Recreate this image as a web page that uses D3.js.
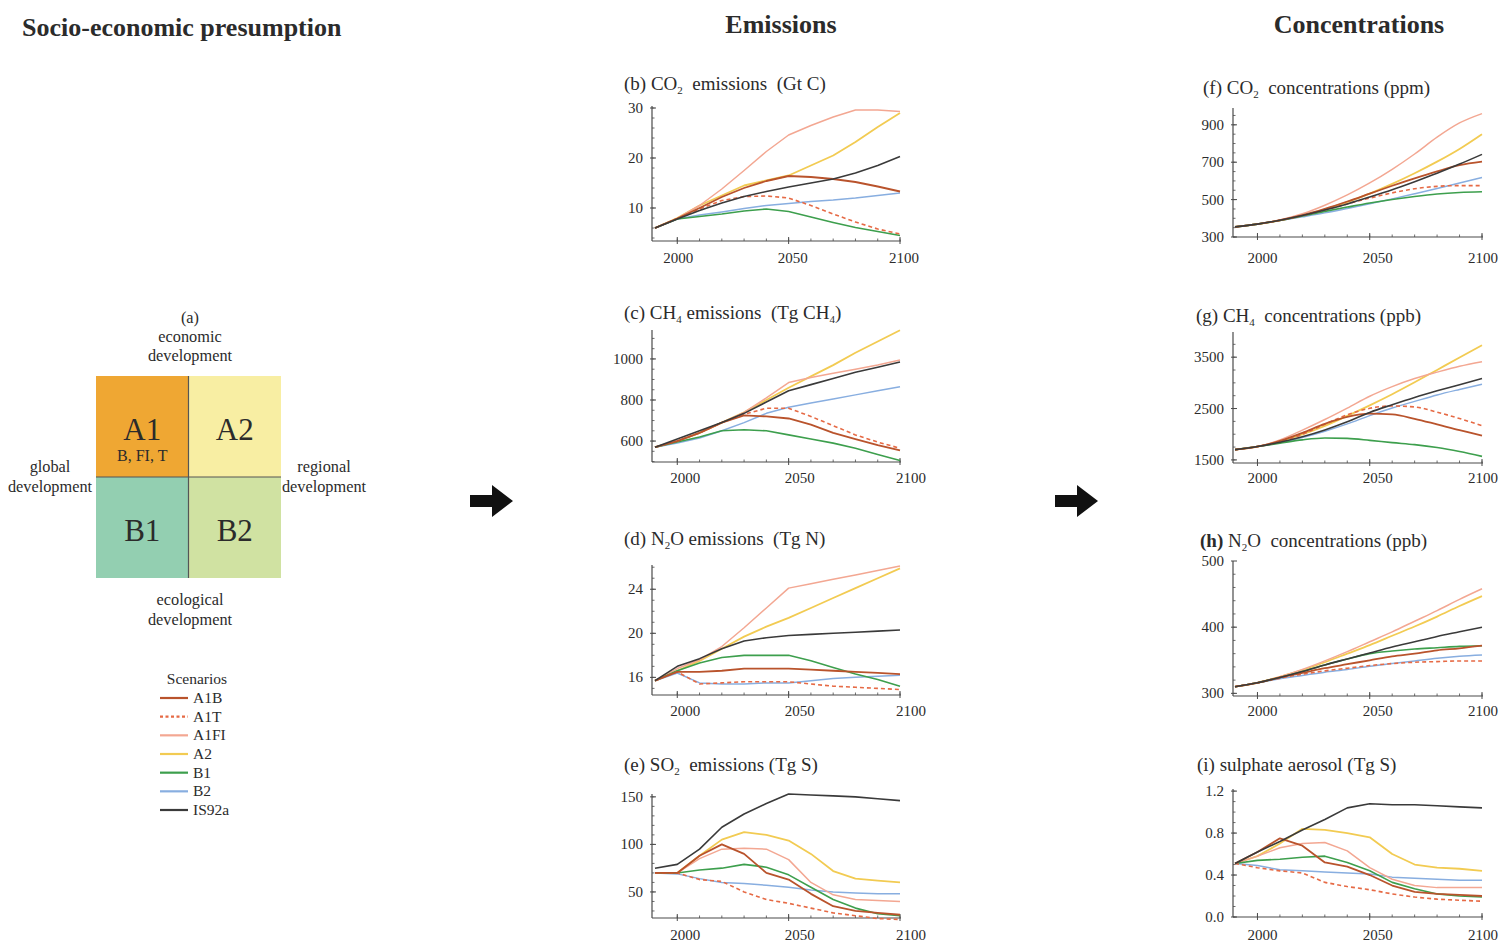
<!DOCTYPE html>
<html><head><meta charset="utf-8">
<script src="https://cdn.jsdelivr.net/npm/d3@7/dist/d3.min.js"></script>
<style>
html,body{margin:0;padding:0;background:#fff;}
svg text{font-family:"Liberation Serif","Times New Roman",serif;fill:#2b2b2b;white-space:pre;}
</style></head>
<body><svg id="chart" width="1501" height="942"></svg>
<script>
// ---------------- DATA ----------------
const years = [1990,2000,2010,2020,2030,2040,2050,2060,2070,2080,2090,2100];
const scenarios = ["A1B","A1T","A1FI","A2","B1","B2","IS92a"];
const xTickLabels = [2000,2050,2100];

const co2Emissions = {
  A1B:  [6.0,7.9,10.0,12.2,14.0,15.4,16.4,16.2,15.8,15.2,14.3,13.3],
  A1T:  [6.0,7.9,9.8,11.5,12.3,12.4,12.0,10.5,8.8,7.2,5.8,4.8],
  A1FI: [6.0,7.9,10.5,13.8,17.5,21.3,24.6,26.5,28.2,29.6,29.6,29.3],
  A2:   [6.0,8.0,10.5,12.5,14.5,15.5,16.5,18.5,20.5,23.2,26.2,29.0],
  B1:   [6.0,7.8,8.3,8.8,9.4,9.8,9.3,8.2,7.1,6.1,5.3,4.5],
  B2:   [6.0,7.8,8.6,9.2,9.9,10.5,10.9,11.3,11.6,12.0,12.5,13.0],
  IS92a:[6.0,7.8,9.5,11.0,12.3,13.3,14.2,15.0,15.8,17.0,18.5,20.3]
};
const ch4Emissions = {
  A1B:  [570,600,640,690,725,720,710,680,640,610,580,555],
  A1T:  [570,600,640,690,730,760,760,720,675,630,595,565],
  A1FI: [570,600,640,690,740,810,885,910,930,950,970,995],
  A2:   [570,600,640,690,740,800,860,915,970,1030,1085,1140],
  B1:   [570,595,620,650,655,650,630,610,590,565,535,505],
  B2:   [570,590,615,650,690,735,765,785,805,825,845,865],
  IS92a:[570,610,650,690,735,790,845,875,905,935,960,985]
};
const n2oEmissions = {
  A1B:  [15.7,16.5,16.5,16.6,16.8,16.8,16.8,16.7,16.6,16.5,16.4,16.3],
  A1T:  [15.7,16.5,15.4,15.5,15.6,15.6,15.6,15.4,15.2,15.1,15.0,14.9],
  A1FI: [15.7,16.8,17.6,18.8,20.5,22.3,24.1,24.5,24.9,25.3,25.7,26.1],
  A2:   [15.7,16.6,17.5,18.6,19.7,20.6,21.4,22.3,23.2,24.1,25.0,25.9],
  B1:   [15.7,16.6,17.3,17.8,18.0,18.0,18.0,17.5,16.9,16.3,15.8,15.2],
  B2:   [15.7,16.4,15.5,15.4,15.4,15.5,15.5,15.7,15.9,16.0,16.1,16.2],
  IS92a:[15.7,17.0,17.7,18.6,19.3,19.6,19.8,19.9,20.0,20.1,20.2,20.3]
};
const so2Emissions = {
  A1B:  [70,70,88,100,90,70,63,48,35,30,28,26],
  A1T:  [70,70,63,61,50,42,38,33,28,25,22,21],
  A1FI: [70,70,85,95,96,95,84,60,47,42,41,40],
  A2:   [70,70,88,105,113,110,104,90,72,64,62,60],
  B1:   [70,70,73,75,79,76,68,55,42,33,27,25],
  B2:   [70,69,64,60,59,57,55,52,50,49,48,48],
  IS92a:[75,79,95,118,132,143,153,152,151,150,148,146]
};
const co2Conc = {
  A1B:  [354,369,390,417,451,490,532,574,614,651,684,703],
  A1T:  [354,369,389,415,445,477,508,536,558,571,575,575],
  A1FI: [354,369,391,424,470,525,589,662,744,834,910,960],
  A2:   [354,369,389,415,448,487,532,584,641,703,771,850],
  B1:   [354,369,388,412,437,460,482,501,517,530,538,542],
  B2:   [354,369,388,408,429,453,478,504,531,559,589,618],
  IS92a:[354,369,390,415,444,477,514,553,596,641,690,742]
};
const ch4Conc = {
  A1B:  [1700,1760,1871,2026,2202,2337,2400,2386,2301,2191,2078,1974],
  A1T:  [1700,1760,1856,1998,2194,2377,2504,2550,2531,2429,2305,2168],
  A1FI: [1700,1760,1888,2079,2286,2508,2740,2927,3084,3209,3324,3413],
  A2:   [1700,1760,1861,1997,2163,2357,2562,2779,3011,3252,3493,3731],
  B1:   [1700,1760,1827,1891,1927,1919,1881,1836,1797,1741,1663,1569],
  B2:   [1700,1760,1839,1936,2058,2201,2363,2510,2639,2765,2872,2973],
  IS92a:[1700,1760,1844,1951,2084,2242,2425,2575,2717,2845,2965,3083]
};
const n2oConc = {
  A1B:  [310,316,324,331,338,344,350,356,360,365,368,372],
  A1T:  [310,316,323,329,334,338,342,345,347,348,349,349],
  A1FI: [310,316,325,336,349,363,378,393,409,425,442,458],
  A2:   [310,316,325,335,347,360,373,387,401,416,432,447],
  B1:   [310,316,324,333,343,352,360,364,367,369,371,372],
  B2:   [310,316,322,327,332,336,341,345,349,353,356,358],
  IS92a:[310,316,324,333,343,352,361,370,378,386,393,400]
};
const sulphate = {
  A1B:  [0.51,0.62,0.75,0.68,0.52,0.48,0.40,0.30,0.24,0.22,0.21,0.20],
  A1T:  [0.51,0.47,0.44,0.42,0.33,0.29,0.26,0.22,0.19,0.17,0.16,0.15],
  A1FI: [0.51,0.58,0.66,0.70,0.71,0.63,0.47,0.36,0.30,0.28,0.28,0.28],
  A2:   [0.51,0.58,0.70,0.84,0.83,0.80,0.76,0.60,0.50,0.47,0.46,0.44],
  B1:   [0.51,0.54,0.55,0.57,0.58,0.52,0.44,0.33,0.27,0.22,0.20,0.19],
  B2:   [0.51,0.49,0.45,0.44,0.43,0.42,0.41,0.38,0.37,0.36,0.35,0.35],
  IS92a:[0.51,0.62,0.72,0.83,0.93,1.04,1.08,1.07,1.07,1.06,1.05,1.04]
};

const yTicksB = [10,20,30];
const yTicksC = [600,800,1000];
const yTicksD = [16,20,24];
const yTicksE = [50,100,150];
const yTicksF = [300,500,700,900];
const yTicksG = [1500,2500,3500];
const yTicksH = [300,400,500];
const yTicksI = [0.0,0.4,0.8,1.2];

// ---------------- STYLES ----------------
const style = {
  A1B:  {color:"#b9532c", dash:null, w:1.8},
  A1T:  {color:"#e66a45", dash:"4,3", w:1.6},
  A1FI: {color:"#f3a792", dash:null, w:1.5},
  A2:   {color:"#f2cb52", dash:null, w:1.8},
  B1:   {color:"#3d9f4d", dash:null, w:1.6},
  B2:   {color:"#88aee0", dash:null, w:1.5},
  IS92a:{color:"#3a3a3a", dash:null, w:1.6}
};
const drawOrder = ["B2","A2","A1FI","B1","A1T","A1B","IS92a"];

const svg = d3.select("#chart");

// ---------------- HEADINGS ----------------
svg.append("text").attr("x",22).attr("y",36).attr("font-size",26).attr("font-weight","bold").text("Socio-economic presumption");
svg.append("text").attr("x",781).attr("y",33).attr("text-anchor","middle").attr("font-size",26).attr("font-weight","bold").text("Emissions");
svg.append("text").attr("x",1359).attr("y",33).attr("text-anchor","middle").attr("font-size",26).attr("font-weight","bold").text("Concentrations");

// ---------------- QUADRANT (a) ----------------
const quads = [
  {k:"A1", col:0,row:0, fill:"#efa733"},
  {k:"A2", col:1,row:0, fill:"#f8eea3"},
  {k:"B1", col:0,row:1, fill:"#93cfb1"},
  {k:"B2", col:1,row:1, fill:"#d0e2a2"}
];
const qx = d3.scaleBand().domain([0,1]).range([96,281]);
const qy = d3.scaleBand().domain([0,1]).range([376,578]);
const gq = svg.append("g");
gq.selectAll("rect").data(quads).join("rect")
  .attr("x",d=>qx(d.col)).attr("y",d=>qy(d.row))
  .attr("width",qx.bandwidth()).attr("height",qy.bandwidth()).attr("fill",d=>d.fill);
gq.append("line").attr("x1",qx(1)).attr("x2",qx(1)).attr("y1",376).attr("y2",578).attr("stroke","#555").attr("stroke-width",1.2);
gq.append("line").attr("x1",96).attr("x2",281).attr("y1",qy(1)).attr("y2",qy(1)).attr("stroke","#555").attr("stroke-width",1.2);
gq.selectAll("text.q").data(quads).join("text").attr("class","q")
  .attr("x",d=>qx(d.col)+qx.bandwidth()/2).attr("y",d=>qy(d.row)+qy.bandwidth()/2+13)
  .attr("text-anchor","middle").attr("font-size",31).text(d=>d.k);
gq.append("text").attr("x",qx(0)+qx.bandwidth()/2).attr("y",461).attr("text-anchor","middle").attr("font-size",16).text("B, FI, T");
const qLabels = [
  ["(a)",190,323],["economic",190,342],["development",190,361],
  ["global",50,472],["development",50,492],
  ["regional",324,472],["development",324,492],
  ["ecological",190,605],["development",190,625]
];
gq.selectAll("text.l").data(qLabels).join("text").attr("class","l")
  .attr("x",d=>d[1]).attr("y",d=>d[2]).attr("text-anchor","middle").attr("font-size",16.3).text(d=>d[0]);

// ---------------- LEGEND ----------------
const gl = svg.append("g");
gl.append("text").attr("x",197).attr("y",684).attr("text-anchor","middle").attr("font-size",15.5).text("Scenarios");
const ly = d3.scalePoint().domain(scenarios).range([698,810]);
scenarios.forEach(s=>{
  gl.append("line").attr("x1",160).attr("x2",188).attr("y1",ly(s)).attr("y2",ly(s))
    .attr("stroke",style[s].color).attr("stroke-width",2.2)
    .attr("stroke-dasharray", s==="A1T" ? "3,2.5" : null);
  gl.append("text").attr("x",193).attr("y",ly(s)+5).attr("font-size",15.5).text(s);
});

// ---------------- ARROWS ----------------
function arrow(x,y){
  const p = d3.path();
  p.moveTo(x,y-6); p.lineTo(x+22,y-6); p.lineTo(x+22,y-16); p.lineTo(x+43,y);
  p.lineTo(x+22,y+16); p.lineTo(x+22,y+6); p.lineTo(x,y+6); p.closePath();
  svg.append("path").attr("d",p.toString()).attr("fill","#111");
}
arrow(470,501);
arrow(1055,501);

// ---------------- PANELS ----------------
const panels = [
  {data:co2Emissions, yTicks:yTicksB, dom:[3.4,30.4], rng:[241,106], x:[655,900], ax:652, minor:2, fmt:d3.format("d"),
   tx:624, ty:90, title:[["(b) CO"],["2","s"],["  emissions  (Gt C)"]], lblDy:22, lblDx:1},
  {data:ch4Emissions, yTicks:yTicksC, dom:[498,1141], rng:[462,330], x:[655,900], ax:652, minor:50, fmt:d3.format("d"),
   tx:624, ty:319, title:[["(c) CH"],["4","s"],[" emissions  (Tg CH"],["4","s"],[")"]], lblDy:21, lblDx:8},
  {data:n2oEmissions, yTicks:yTicksD, dom:[14.4,26.2], rng:[695,565], x:[655,900], ax:652, minor:1, fmt:d3.format("d"),
   tx:624, ty:545, title:[["(d) N"],["2","s"],["O emissions  (Tg N)"]], lblDy:21, lblDx:8},
  {data:so2Emissions, yTicks:yTicksE, dom:[22.6,153], rng:[918,794], x:[655,900], ax:652, minor:10, fmt:d3.format("d"),
   tx:624, ty:771, title:[["(e) SO"],["2","s"],["  emissions (Tg S)"]], lblDy:22, lblDx:8},
  {data:co2Conc, yTicks:yTicksF, dom:[300,990], rng:[237,108], x:[1235,1482], ax:1233, minor:50, fmt:d3.format("d"), smooth:true,
   tx:1203, ty:94, title:[["(f) CO"],["2","s"],["  concentrations (ppm)"]], lblDy:26, lblDx:5},
  {data:ch4Conc, yTicks:yTicksG, dom:[1440,3990], rng:[463,332], x:[1235,1482], ax:1233, minor:250, fmt:d3.format("d"), smooth:true,
   tx:1196, ty:322, title:[["(g) CH"],["4","s"],["  concentrations (ppb)"]], lblDy:20, lblDx:5},
  {data:n2oConc, yTicks:yTicksH, dom:[296,500], rng:[696,561], x:[1235,1482], ax:1233, minor:20, fmt:d3.format("d"), smooth:true,
   tx:1200, ty:547, title:[["(h)","b"],[" N"],["2","s"],["O  concentrations (ppb)"]], lblDy:20, lblDx:5},
  {data:sulphate, yTicks:yTicksI, dom:[0,1.22], rng:[917,789], x:[1235,1482], ax:1233, minor:0.1, fmt:d3.format(".1f"),
   tx:1197, ty:771, title:[["(i) sulphate aerosol (Tg S)"]], lblDy:23, lblDx:5}
];

panels.forEach(p=>{
  const g = svg.append("g");
  const xs = d3.scaleLinear().domain([1990,2100]).range(p.x);
  const ys = d3.scaleLinear().domain(p.dom).range(p.rng);
  const axColor = "#4a4a4a";
  const xAxisY = p.rng[0];
  const xEnd = xs(2100)+1;
  // title
  const t = g.append("text").attr("x",p.tx).attr("y",p.ty).attr("font-size",19);
  let prevSub = false;
  p.title.forEach(seg=>{
    const ts = t.append("tspan").text(seg[0]);
    if(seg[1]==="s"){ ts.attr("font-size",11).attr("dy",4); prevSub = true; }
    else {
      if(prevSub) ts.attr("dy",-4);
      prevSub = false;
      if(seg[1]==="b") ts.attr("font-weight","bold");
    }
  });
  // axes lines
  g.append("line").attr("x1",p.ax).attr("x2",p.ax).attr("y1",xAxisY).attr("y2",p.rng[1]).attr("stroke",axColor).attr("stroke-width",1.2);
  g.append("line").attr("x1",p.ax).attr("x2",xEnd).attr("y1",xAxisY).attr("y2",xAxisY).attr("stroke",axColor).attr("stroke-width",1.2);
  // minor y ticks
  const minorVals = d3.range(Math.ceil(p.dom[0]/p.minor)*p.minor, p.dom[1], p.minor);
  g.selectAll("line.my").data(minorVals).join("line").attr("class","my")
    .attr("x1",p.ax).attr("x2",p.ax+2.5).attr("y1",d=>ys(d)).attr("y2",d=>ys(d)).attr("stroke",axColor).attr("stroke-width",0.8);
  g.selectAll("line.My").data(p.yTicks).join("line").attr("class","My")
    .attr("x1",p.ax-2).attr("x2",p.ax+4).attr("y1",d=>ys(d)).attr("y2",d=>ys(d)).attr("stroke",axColor).attr("stroke-width",1);
  g.selectAll("text.yl").data(p.yTicks).join("text").attr("class","yl")
    .attr("x",p.ax-9).attr("y",d=>ys(d)+5).attr("text-anchor","end").attr("font-size",15).text(d=>p.fmt(d));
  // x ticks
  const xMinor = d3.range(2000,2101,10);
  g.selectAll("line.mx").data(xMinor).join("line").attr("class","mx")
    .attr("x1",d=>xs(d)).attr("x2",d=>xs(d)).attr("y1",xAxisY).attr("y2",xAxisY-2.5).attr("stroke",axColor).attr("stroke-width",0.8);
  g.selectAll("line.Mx").data(xTickLabels).join("line").attr("class","Mx")
    .attr("x1",d=>xs(d)).attr("x2",d=>xs(d)).attr("y1",xAxisY+3).attr("y2",xAxisY-4).attr("stroke",axColor).attr("stroke-width",1);
  g.selectAll("text.xl").data(xTickLabels).join("text").attr("class","xl")
    .attr("x",d=>Math.min(xs(d)+p.lblDx+(d===2000?0:3), 1483)).attr("y",xAxisY+p.lblDy)
    .attr("text-anchor","middle").attr("font-size",15).text(d=>d);
  // lines
  const line = d3.line().x((d,i)=>xs(years[i])).y(d=>ys(d))
    .curve(p.smooth ? d3.curveMonotoneX : d3.curveLinear);
  drawOrder.forEach(s=>{
    g.append("path").datum(p.data[s]).attr("d",line).attr("fill","none")
      .attr("stroke",style[s].color).attr("stroke-width",style[s].w)
      .attr("stroke-dasharray",style[s].dash).attr("stroke-linejoin","round");
  });
});
</script>
</body></html>
